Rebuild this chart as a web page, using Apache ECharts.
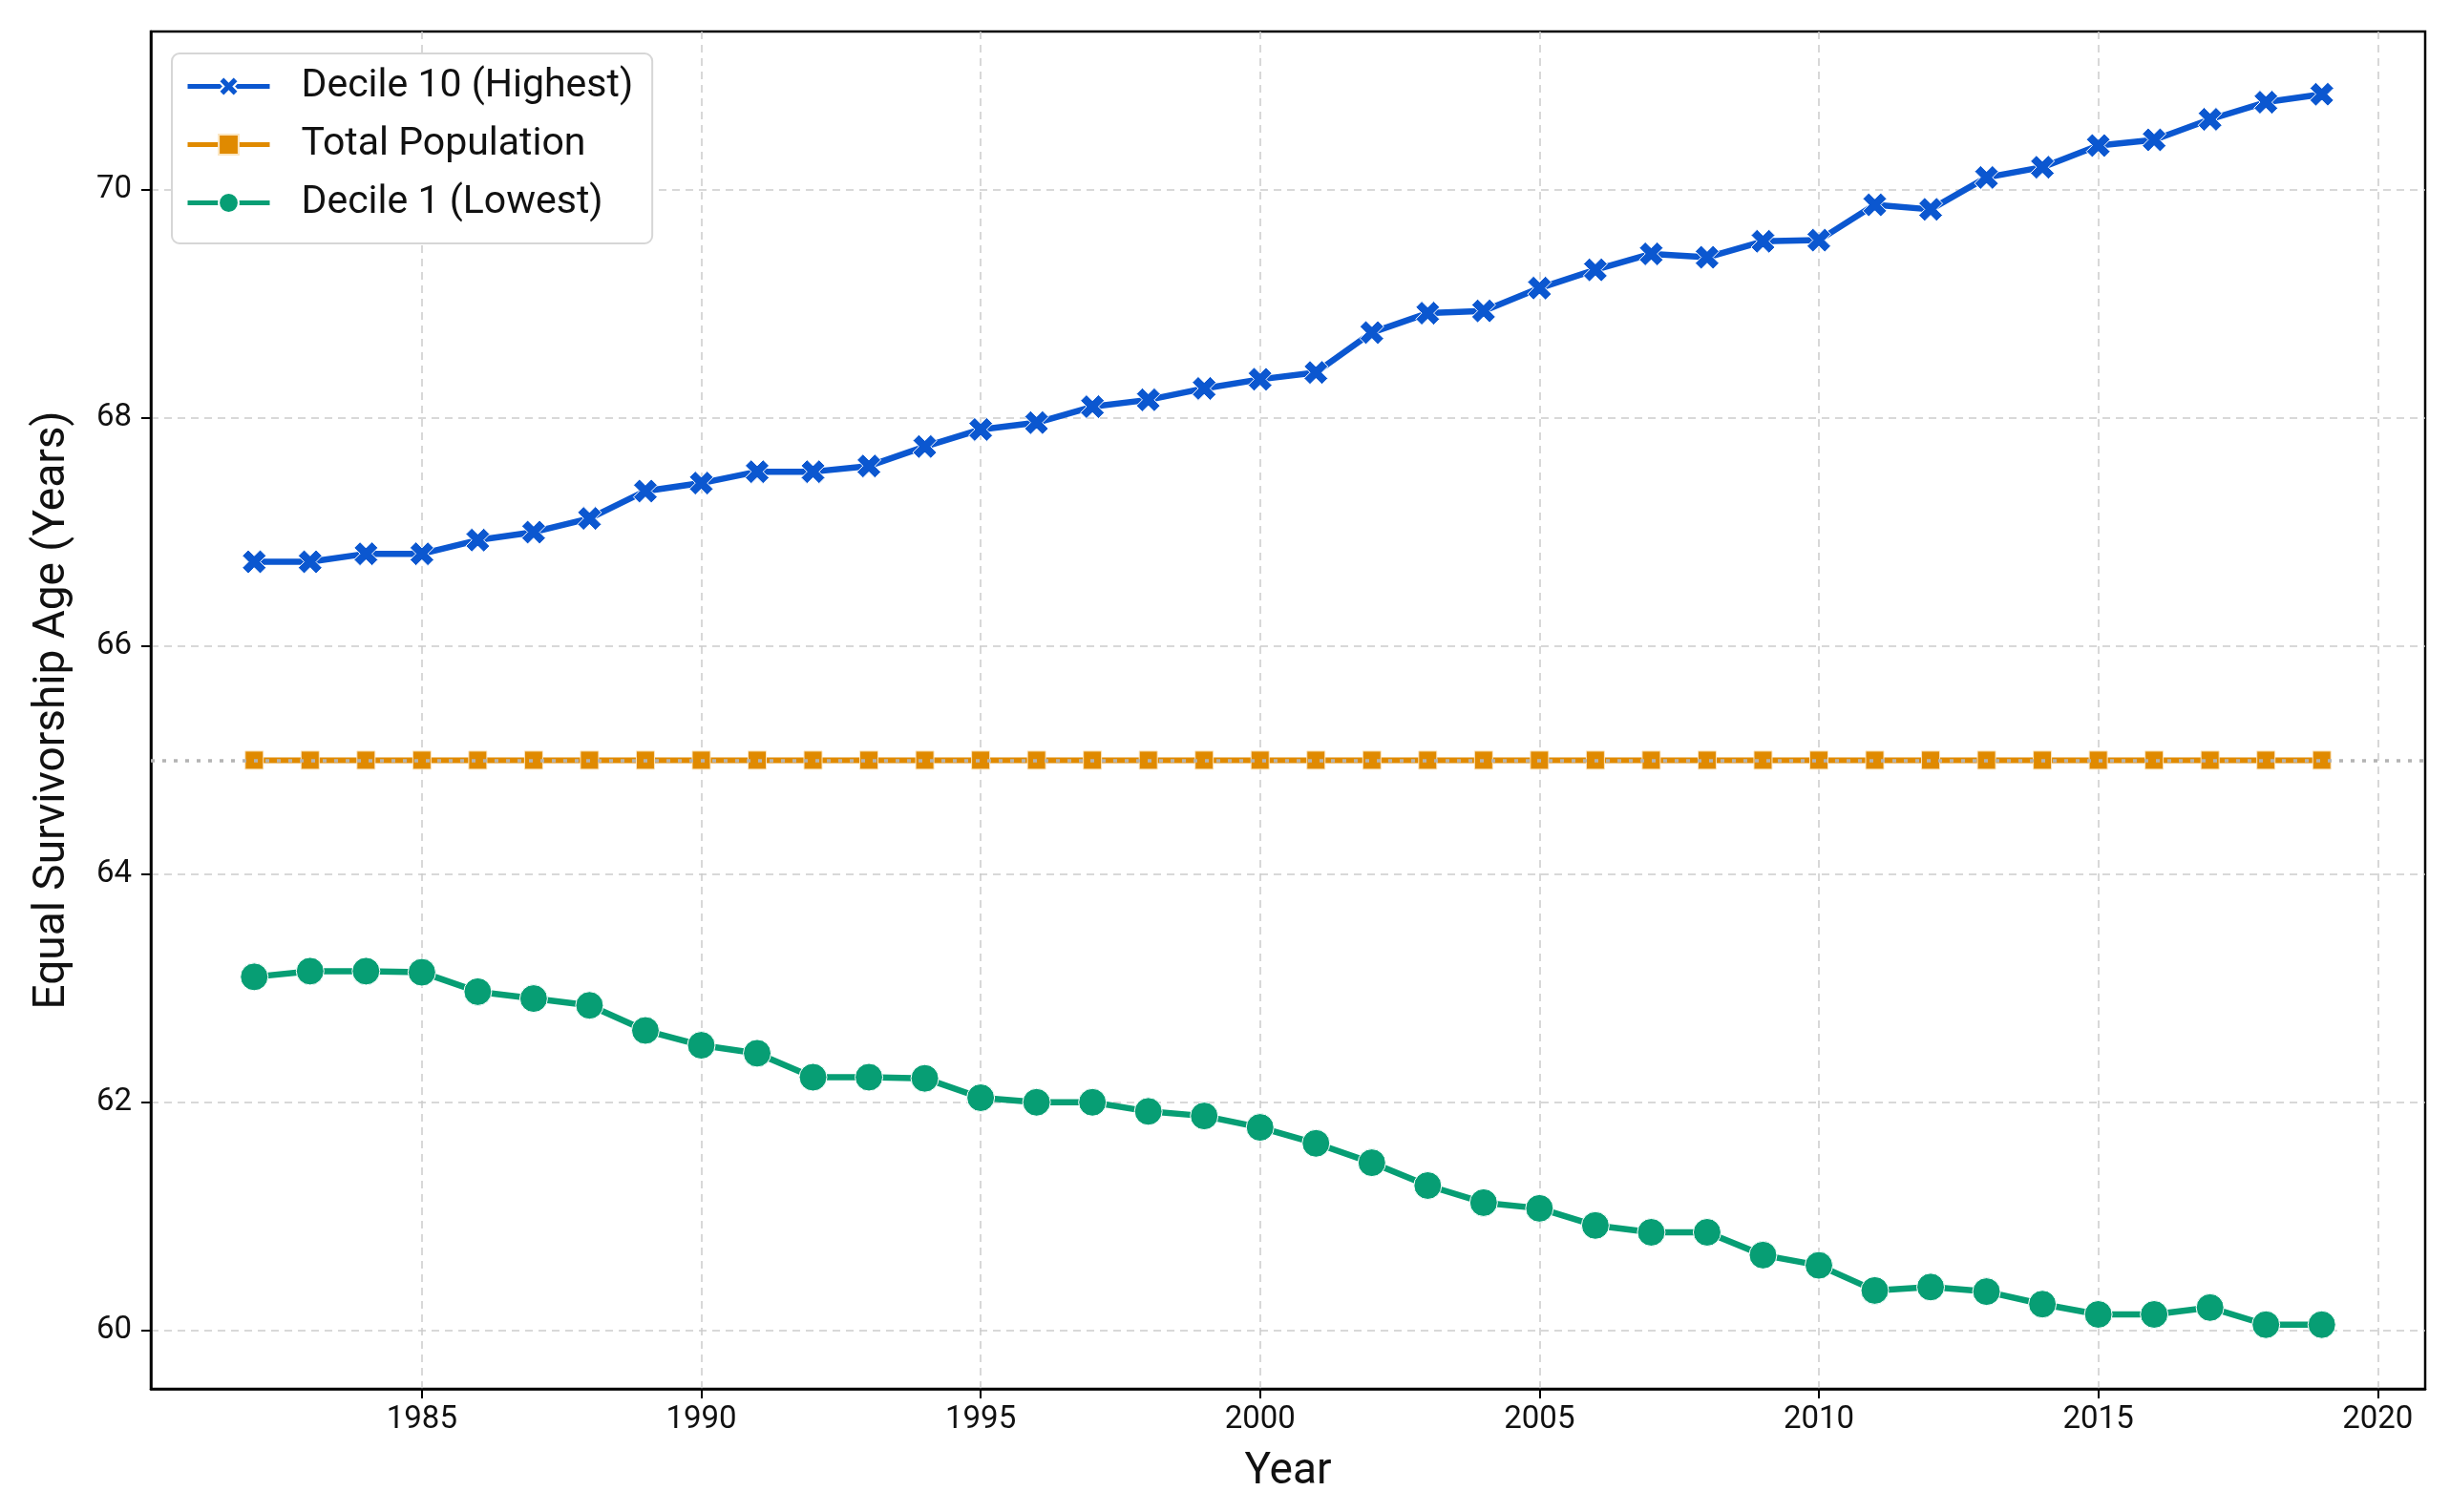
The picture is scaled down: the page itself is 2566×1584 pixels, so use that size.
<!DOCTYPE html>
<html>
<head>
<meta charset="utf-8">
<title>Equal Survivorship Age</title>
<script src="https://cdn.jsdelivr.net/npm/echarts@6/dist/echarts.min.js"></script>
<style>
  html, body { margin: 0; padding: 0; background: #fff; }
  #chart { width: 2566px; height: 1584px; }
</style>
</head>
<body>
<div id="chart"></div>
<script>
// data
var years = [1982, 1983, 1984, 1985, 1986, 1987, 1988, 1989, 1990, 1991,
             1992, 1993, 1994, 1995, 1996, 1997, 1998, 1999, 2000, 2001,
             2002, 2003, 2004, 2005, 2006, 2007, 2008, 2009, 2010, 2011,
             2012, 2013, 2014, 2015, 2016, 2017, 2018, 2019];
var decile10 = [66.74, 66.74, 66.81, 66.81, 66.93, 67.00, 67.12, 67.36, 67.43, 67.53,
                67.53, 67.58, 67.75, 67.90, 67.96, 68.10, 68.16, 68.26, 68.34, 68.40,
                68.75, 68.92, 68.94, 69.14, 69.30, 69.44, 69.41, 69.55, 69.56, 69.87,
                69.83, 70.11, 70.20, 70.39, 70.44, 70.62, 70.77, 70.84];
var totalPop = [65, 65, 65, 65, 65, 65, 65, 65, 65, 65,
                65, 65, 65, 65, 65, 65, 65, 65, 65, 65,
                65, 65, 65, 65, 65, 65, 65, 65, 65, 65,
                65, 65, 65, 65, 65, 65, 65, 65];
var decile1 = [63.10, 63.15, 63.15, 63.14, 62.97, 62.91, 62.85, 62.63, 62.50, 62.43,
               62.22, 62.22, 62.21, 62.04, 62.00, 62.00, 61.92, 61.88, 61.78, 61.64,
               61.47, 61.27, 61.12, 61.07, 60.92, 60.86, 60.86, 60.66, 60.57, 60.35,
               60.38, 60.34, 60.23, 60.14, 60.14, 60.20, 60.05, 60.05];
var referenceAge = 65;
var xTicks = [1985, 1990, 1995, 2000, 2005, 2010, 2015, 2020];
var yTicks = [60, 62, 64, 66, 68, 70];

var seriesNames = ['Decile 10 (Highest)', 'Total Population', 'Decile 1 (Lowest)'];
var colors = ['#0b57d0', '#e08a00', '#079e74'];

function pairs(vals) {
    return years.map(function (y, i) { return [y, vals[i]]; });
}

var xMark = 'path://M0,2.5L2.5,0L5,2.5L7.5,0L10,2.5L7.5,5L10,7.5L7.5,10L5,7.5L2.5,10L0,7.5L2.5,5Z';
var font = 'Roboto';

var chart = echarts.init(document.getElementById('chart'));
var option = {
    animation: false,
    textStyle: { fontFamily: font },
    grid: {
        left: 158, right: 26, top: 33, bottom: 129,
        show: true, borderColor: '#000', borderWidth: 2.5
    },
    legend: {
        orient: 'vertical',
        left: 180, top: 56,
        padding: [14, 20, 22, 14],
        itemWidth: 86, itemHeight: 26, itemGap: 20,
        backgroundColor: '#fff',
        borderColor: '#d6d6d6', borderWidth: 2, borderRadius: 8,
        lineStyle: { width: 5 },
        textStyle: { fontFamily: font, fontSize: 41, color: '#111', padding: [0, 0, 0, 28] },
        data: seriesNames
    },
    xAxis: {
        type: 'value',
        min: 1980.15, max: 2020.85,
        name: 'Year', nameLocation: 'middle', nameGap: 64,
        nameTextStyle: { fontFamily: font, fontSize: 46, color: '#111' },
        axisLine: { show: true, lineStyle: { color: '#000', width: 2.5 } },
        axisTick: { show: true, length: 10, customValues: xTicks, lineStyle: { color: '#000', width: 2 } },
        axisLabel: {
            customValues: xTicks, margin: 16, fontSize: 33, color: '#111', fontFamily: font,
            formatter: function (v) { return String(v); }
        },
        splitLine: { show: true, lineStyle: { color: '#cccccc', width: 1.5, type: [8, 6] } }
    },
    yAxis: {
        type: 'value',
        min: 59.487, max: 71.39,
        name: 'Equal Survivorship Age (Years)', nameLocation: 'middle', nameGap: 80,
        nameTextStyle: { fontFamily: font, fontSize: 46, color: '#111' },
        axisLine: { show: true, lineStyle: { color: '#000', width: 2.5 } },
        axisTick: { show: true, length: 10, customValues: yTicks, lineStyle: { color: '#000', width: 2 } },
        axisLabel: { customValues: yTicks, margin: 20, fontSize: 33, color: '#111', fontFamily: font },
        splitLine: { show: true, lineStyle: { color: '#cccccc', width: 1.5, type: [8, 6] } }
    },
    series: [
        {
            name: seriesNames[0], type: 'line', data: pairs(decile10),
            symbol: xMark, symbolSize: 25, showAllSymbol: true,
            lineStyle: { color: colors[0], width: 6.5 },
            itemStyle: { color: colors[0], borderColor: '#fff', borderWidth: 1 },
            z: 3
        },
        {
            name: seriesNames[1], type: 'line', data: pairs(totalPop),
            symbol: 'rect', symbolSize: 19, showAllSymbol: true,
            lineStyle: { color: colors[1], width: 6 },
            itemStyle: { color: colors[1], borderColor: '#fbe6c2', borderWidth: 1 },
            z: 3
        },
        {
            name: seriesNames[2], type: 'line', data: pairs(decile1),
            symbol: 'circle', symbolSize: 29, showAllSymbol: true,
            lineStyle: { color: colors[2], width: 6.5 },
            itemStyle: { color: colors[2], borderColor: '#fff', borderWidth: 1 },
            z: 3
        },
        {
            // dotted reference line at the total population age
            name: 'reference', type: 'line', data: [], z: 6,
            markLine: {
                silent: true, symbol: 'none', label: { show: false },
                lineStyle: { color: '#b4b4b4', width: 3.5, type: [4, 8] },
                data: [{ yAxis: referenceAge }]
            }
        }
    ]
};
chart.setOption(option);
</script>
</body>
</html>
